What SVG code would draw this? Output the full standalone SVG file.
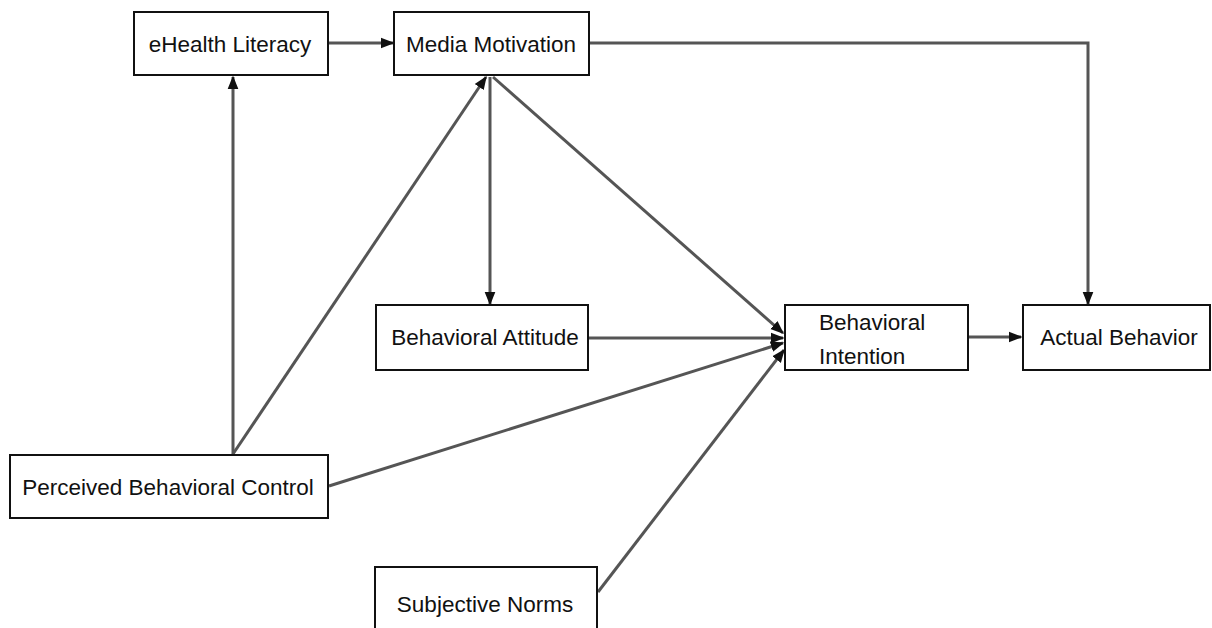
<svg xmlns="http://www.w3.org/2000/svg" width="1212" height="628" viewBox="0 0 1212 628">
<style>
.box{fill:#fff;stroke:#111;stroke-width:2}
.lbl{font-family:"Liberation Sans",Arial,sans-serif;font-size:22.5px;fill:#111;text-anchor:middle}
.lft{text-anchor:start}
.edge{fill:none;stroke:#555;stroke-width:3}
</style>
<defs>
<marker id="ah" viewBox="0 0 10 10" refX="9" refY="5" markerWidth="4.5" markerHeight="4.5" orient="auto" markerUnits="strokeWidth">
<path d="M0,1 L10,5 L0,9 z" fill="#111"/>
</marker>
</defs>
<rect width="1212" height="628" fill="#fff"/>
<g id="connectors">
<line class="edge" x1="329" y1="43" x2="393" y2="43" marker-end="url(#ah)"/>
<line class="edge" x1="233" y1="454" x2="233" y2="77" marker-end="url(#ah)"/>
<line class="edge" x1="233" y1="454" x2="486" y2="77" marker-end="url(#ah)"/>
<line class="edge" x1="490" y1="77" x2="490" y2="304" marker-end="url(#ah)"/>
<line class="edge" x1="493" y1="77" x2="783" y2="333" marker-end="url(#ah)"/>
<line class="edge" x1="589" y1="338" x2="783" y2="338" marker-end="url(#ah)"/>
<line class="edge" x1="329" y1="486" x2="783" y2="343" marker-end="url(#ah)"/>
<line class="edge" x1="598" y1="592" x2="784" y2="350" marker-end="url(#ah)"/>
<line class="edge" x1="969" y1="337" x2="1021" y2="337" marker-end="url(#ah)"/>
<polyline class="edge" points="590,43 1088,43 1088,304" marker-end="url(#ah)"/>
</g>
<g id="ehealth"><rect class="box" x="134" y="12" width="194" height="63"/><text class="lbl" x="230" y="52">eHealth Literacy</text></g>
<g id="media"><rect class="box" x="394" y="12" width="195" height="63"/><text class="lbl" x="491" y="52">Media Motivation</text></g>
<g id="attitude"><rect class="box" x="376" y="305" width="212" height="65"/><text class="lbl" x="485" y="345">Behavioral Attitude</text></g>
<g id="intention"><rect class="box" x="785" y="305" width="183" height="65"/><text class="lbl lft" x="819" y="330">Behavioral</text><text class="lbl lft" x="819" y="364">Intention</text></g>
<g id="actual"><rect class="box" x="1023" y="305" width="187" height="65"/><text class="lbl" x="1119" y="345">Actual Behavior</text></g>
<g id="pbc"><rect class="box" x="10" y="455" width="318" height="63"/><text class="lbl" x="168" y="495">Perceived Behavioral Control</text></g>
<g id="norms"><rect class="box" x="375" y="567" width="222" height="70"/><text class="lbl" x="485" y="612">Subjective Norms</text></g>
</svg>
